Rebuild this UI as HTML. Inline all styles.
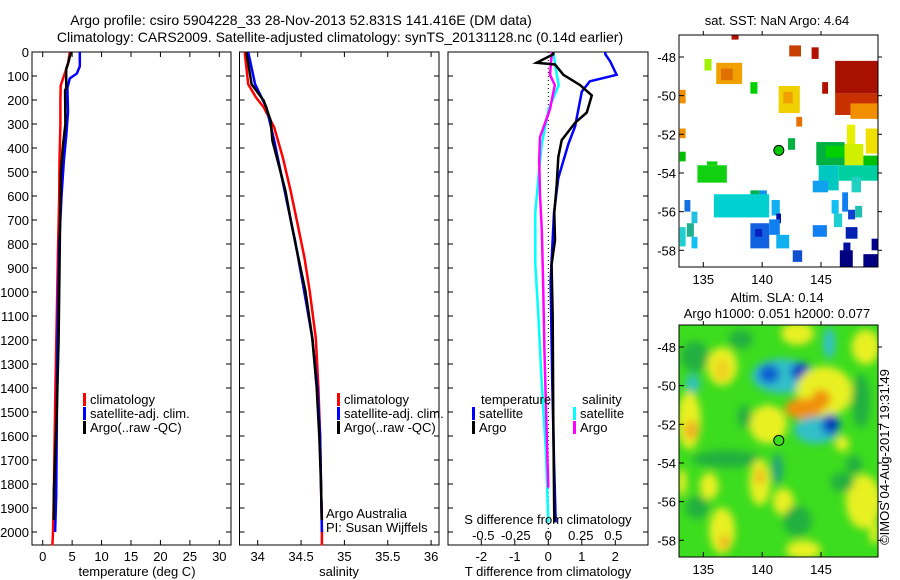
<!DOCTYPE html>
<html><head><meta charset="utf-8"><style>
html,body{margin:0;padding:0;background:#fff;}
svg{display:block;font-family:"Liberation Sans",sans-serif;font-size:13px;}
</style></head><body>
<svg id="root" width="900" height="580" viewBox="0 0 900 580">
<text x="301" y="25" text-anchor="middle" font-size="14">Argo profile: csiro 5904228_33 28-Nov-2013 52.831S 141.416E (DM data)</text>
<text x="340" y="42" text-anchor="middle" font-size="14">Climatology: CARS2009. Satellite-adjusted climatology: synTS_20131128.nc (0.14d earlier)</text>
<text x="777" y="25" text-anchor="middle">sat. SST: NaN Argo: 4.64</text>
<text x="777" y="302" text-anchor="middle">Altim. SLA: 0.14</text>
<text x="777" y="318" text-anchor="middle">Argo h1000: 0.051 h2000: 0.077</text>
<text transform="translate(889,457) rotate(-90)" text-anchor="middle">©IMOS 04-Aug-2017 19:31:49</text>
</svg>
<script>
// ---- data ----
const depthTicks=[0,100,200,300,400,500,600,700,800,900,1000,1100,1200,1300,1400,1500,1600,1700,1800,1900,2000];
const tempTicks=[0,5,10,15,20,25,30];
const salTicks=[34,34.5,35,35.5,36];
const tdiffTicks=[-2,-1,0,1,2];
const sdiffTicks=[-0.5,-0.25,0,0.25,0.5];
const lonTicks=[135,140,145];
const latTicks=[-48,-50,-52,-54,-56,-58];

const tClimDepth=[0,50,100,140,200,300,450,600,830,1100,1400,1650,1830,2000,2056];
const tClimVal=[4.6,4.3,3.6,3.05,3.0,3.0,2.85,2.8,2.6,2.4,2.15,2.0,1.9,1.75,1.65];
const tSatDepth=[0,60,90,110,150,250,350,450,600,800,1000,1300,1550,1850,2000];
const tSatVal=[6.3,6.3,5.8,4.6,4.2,4.3,4.0,3.6,3.2,2.8,2.65,2.45,2.4,2.3,2.1];
const tArgoDepth=[0,40,70,150,160,300,400,500,700,900,1200,1500,1830,1950];
const tArgoVal=[4.8,4.4,4.0,4.0,3.8,3.85,3.4,3.1,2.95,2.85,2.7,2.4,1.9,1.9];

const sClimDepth=[0,134,189,231,314,439,578,717,858,996,1192,1400,1600,1800,2000,2056];
const sClimVal=[33.85,33.89,33.98,34.07,34.19,34.29,34.38,34.46,34.54,34.60,34.67,34.70,34.72,34.73,34.74,34.74];
const sSatDepth=[0,134,231,369,508,646,785,925,1066,1192,1400,1600,1800,2000];
const sSatVal=[33.89,33.97,34.1,34.19,34.27,34.35,34.43,34.5,34.57,34.63,34.69,34.72,34.73,34.74];
const sArgoDepth=[0,134,203,286,369,439,578,717,858,996,1192,1400,1600,1800,1950];
const sArgoVal=[33.87,33.93,34.07,34.15,34.17,34.22,34.32,34.39,34.47,34.55,34.63,34.68,34.71,34.73,34.74];

const dtSatDepth=[0,9,40,95,122,165,310,383,525,670,955,1385,1700,1960];
const dtSatVal=[1.7,1.7,1.85,2.04,1.24,1.0,0.8,0.6,0.3,0.17,0.07,0.12,0.17,0.22];
const dtArgoDepth=[0,9,45,52,95,138,181,252,295,367,438,553,670,785,885,1100,1530,1960];
const dtArgoVal=[0.15,0.15,-0.35,0.2,0.45,0.95,1.3,1.15,0.8,0.4,0.3,0.25,0.18,0.2,0.1,0.13,0.15,0.18];
const dsSatDepth=[0,9,95,138,238,383,525,670,885,1100,1385,1670,1960];
const dsSatVal=[0.03,0.04,0.065,0.08,0.003,-0.05,-0.076,-0.1,-0.1,-0.076,-0.05,-0.018,0.0];
const dsArgoDepth=[0,9,95,138,238,355,453,597,740,955,1240,1530,1815];
const dsArgoVal=[0.03,0.026,0.013,0.05,0.013,-0.064,-0.07,-0.064,-0.05,-0.04,-0.03,-0.015,0.0];

// SST patches: [lon0, lat0(north), lon1, lat1(south), colour]
const sstPatches=[
[137.4,-46.85,138.0,-47.1,'#b01000'],[142.3,-47.4,143.3,-47.97,'#c84000'],[144.2,-47.5,144.8,-48.1,'#b01000'],
[135.1,-48.1,135.7,-48.7,'#a0f000'],[136.1,-48.3,138.3,-49.4,'#f0a000'],[136.5,-48.6,137.5,-49.2,'#e07000'],
[139.0,-49.3,139.6,-49.9,'#00d000'],[133.0,-49.7,133.5,-50.4,'#f09000'],[141.4,-49.5,143.2,-50.9,'#f0d000'],
[141.8,-49.8,142.6,-50.4,'#f0a000'],[142.9,-51.1,143.4,-51.6,'#e87000'],[145.1,-49.3,145.6,-49.9,'#b01000'],
[146.2,-48.2,149.8,-49.9,'#a81000'],[146.2,-49.9,149.8,-51.0,'#c83000'],[147.5,-50.4,149.8,-51.2,'#f09000'],
[133.0,-51.7,133.5,-52.2,'#f09000'],[133.0,-52.9,133.5,-53.4,'#00c000'],[142.2,-52.2,142.8,-52.8,'#00b040'],
[147.2,-51.5,147.9,-52.8,'#e8f000'],[148.8,-51.7,149.8,-53.0,'#f0e000'],[144.6,-52.4,147.0,-53.6,'#00b040'],
[145.4,-52.6,147.0,-53.2,'#00d000'],[147.0,-52.5,148.6,-53.6,'#d0f000'],[148.6,-53.1,149.8,-54.0,'#00c000'],
[134.5,-53.6,137.0,-54.5,'#10d010'],[135.3,-53.4,136.2,-53.6,'#10d010'],
[144.8,-53.6,146.5,-54.9,'#00c8c0'],[146.5,-53.6,149.8,-54.4,'#00d0a0'],[147.6,-54.2,148.4,-55.0,'#20d0c0'],
[144.3,-54.4,145.6,-55.0,'#10a0f0'],[139.0,-54.9,139.8,-55.4,'#00b050'],[139.8,-54.9,140.4,-55.4,'#1090f0'],
[135.9,-55.1,140.6,-56.3,'#00d0d0'],[133.4,-55.4,133.9,-56.0,'#1070e0'],[140.8,-55.4,141.5,-56.2,'#10b0f0'],
[141.2,-56.1,141.6,-56.6,'#0010a0'],[134.0,-56.0,134.5,-56.6,'#20c0e0'],[133.6,-56.6,134.2,-57.3,'#20b090'],
[133.0,-56.8,133.5,-57.8,'#20d0d0'],[134.0,-57.3,134.5,-57.9,'#10c0f0'],[139.0,-56.6,140.6,-57.9,'#1060e0'],
[139.4,-56.9,140.0,-57.3,'#0020c0'],[140.6,-56.4,141.5,-57.2,'#1080f0'],[141.2,-57.2,142.3,-57.9,'#10b0f0'],
[142.6,-58.0,143.4,-58.6,'#1050d0'],[144.3,-56.7,145.5,-57.3,'#1080f0'],[145.9,-55.4,146.5,-56.1,'#10c0f0'],
[146.1,-56.1,146.8,-56.8,'#20d0d0'],[146.8,-55.0,147.3,-56.0,'#1080f0'],[147.3,-55.9,147.9,-56.4,'#1040d0'],
[147.9,-55.7,148.5,-56.3,'#20c0b0'],[147.1,-56.8,148.1,-57.4,'#0020b0'],[146.9,-57.6,147.5,-58.1,'#0010a0'],
[146.6,-58.0,147.7,-58.86,'#000080'],[148.6,-58.2,149.84,-58.86,'#000080'],[149.3,-57.4,149.84,-58.0,'#000090']
];
// SLA blobs: [lon, lat, rxDeg, ryDeg, colour]
const slaBlobs=[
[134.3,-48.5,1.2,0.8,'#20b040'],[143.0,-47.3,1.4,0.6,'#e8f020'],[145.7,-47.8,0.5,0.8,'#30c0d0'],
[136.6,-49.0,1.3,1.0,'#e8f020'],[136.6,-49.2,0.6,0.6,'#f0d020'],[148.8,-48.0,1.2,0.9,'#e8f020'],
[141.7,-49.5,2.6,0.9,'#30c0c8'],[140.6,-49.4,0.9,0.5,'#1060d0'],[143.3,-49.3,0.9,0.5,'#1050d0'],[143.3,-49.3,0.35,0.3,'#1030b0'],
[134.1,-49.9,0.6,0.5,'#30c0c0'],[145.3,-50.3,2.4,1.3,'#e8f020'],[143.5,-51.2,1.6,0.55,'#f09010'],[145.0,-50.7,0.8,0.5,'#f09010'],
[133.8,-51.8,1.0,1.5,'#e8f020'],[134.0,-52.3,0.6,0.5,'#f0b020'],[140.5,-52.0,1.6,1.0,'#e8f020'],[138.5,-51.6,0.6,0.6,'#20b040'],
[144.6,-52.3,1.9,0.7,'#30c0c8'],[145.8,-52.0,0.8,0.55,'#1060d0'],[145.9,-52.0,0.35,0.3,'#0020a0'],
[148.4,-50.8,0.8,1.4,'#20b040'],[146.8,-53.0,0.6,0.4,'#e8f020'],[137.0,-53.8,3.0,0.45,'#20b040'],
[141.3,-54.3,0.45,0.8,'#20a080'],[139.8,-55.0,0.9,1.2,'#e8f020'],[139.8,-54.7,0.4,0.4,'#f0b020'],
[135.5,-55.2,0.8,0.7,'#e8f020'],[133.2,-55.0,0.4,0.7,'#e8f020'],[141.8,-56.0,0.9,0.7,'#e8f020'],
[147.8,-54.1,0.7,0.5,'#20b040'],[148.6,-56.0,1.5,1.4,'#e8f020'],[136.6,-57.5,1.1,1.2,'#e8f020'],
[136.8,-58.1,0.4,0.4,'#f0b020'],[134.5,-56.3,1.0,0.6,'#20b040'],[143.0,-57.0,1.2,0.8,'#20b040'],
[143.5,-58.5,1.5,0.5,'#e8f020'],[149.5,-57.6,0.4,0.6,'#e8f020'],[138.2,-47.6,1.0,0.5,'#20b040'],[146.8,-55.0,1.0,0.5,'#20b040']
];
const argoLon=141.416, argoLat=-52.831;

// ---- scales ----
const NS='http://www.w3.org/2000/svg';
const root=document.getElementById('root');
const yTop=52, yBot=545;
const yD=d=>yTop+d*0.24;
const xT=t=>42.7+t*(219.3-42.7)/30;
const xS=s=>257.7+(s-34)*86.7;
const xDT=v=>548.3+v*33.5;
const xDS=v=>548.3+v*130;
const mLon=l=>703.3+(l-135)*11.77;
const mLat1=la=>57+(-48-la)*19.33;
const mLat2=la=>347+(-48-la)*19.33;

function mk(tag,attrs,parent){const e=document.createElementNS(NS,tag);for(const k in attrs)e.setAttribute(k,attrs[k]);(parent||root).appendChild(e);return e;}

function frame(x0,x1,y0,y1,name){
  const r=mk('rect',{x:x0,y:y0,width:x1-x0,height:y1-y0,fill:'none',stroke:'#000','stroke-width':1});
  
  
}
function depthTicksFor(x0,x1,labels){
  depthTicks.forEach(d=>{
    const y=yD(d);
    const t1=mk('line',{x1:x0,x2:x0+5,y1:y,y2:y,stroke:'#000'});
    
    
    const t2=mk('line',{x1:x1-5,x2:x1,y1:y,y2:y,stroke:'#000'});
    
    
    if(labels){const tx=mk('text',{x:x0-3,y:y+5,'text-anchor':'end'});tx.textContent=d;
      
      }
  });
}
function xTicksFor(vals,fx,labelY,name,top){
  vals.forEach(v=>{
    const x=fx(v);
    const a=mk('line',{x1:x,x2:x,y1:yBot-5,y2:yBot,stroke:'#000'});
    
    
    if(top){const b=mk('line',{x1:x,x2:x,y1:yTop,y2:yTop+5,stroke:'#000'});
      
      }
    const t=mk('text',{x:x,y:labelY,'text-anchor':'middle'});t.textContent=v;
    
    
  });
}
function line(ds,vs,fx,color,name,w){
  const pts=ds.map((d,i)=>fx(vs[i]).toFixed(1)+','+yD(d).toFixed(1)).join(' ');
  const p=mk('polyline',{points:pts,fill:'none',stroke:color,'stroke-width':w||2.5,'stroke-linejoin':'miter'});
  
  
}
function legend(x,y,color,label,name){
  const b=mk('rect',{x:x,y:y-11,width:3,height:13,fill:color});
  
  
  const t=mk('text',{x:x+7,y:y});t.textContent=label;
  
  
}
function txt(x,y,s,name,anchor){const t=mk('text',{x:x,y:y,'text-anchor':anchor||'start'});t.textContent=s;
  
  }

// ---- panel 1: temperature ----
frame(32,231,yTop,yBot,'temperature-panel-frame');
depthTicksFor(32,231,true);
xTicksFor(tempTicks,xT,561,'temperature-axis',true);
txt(137,576,'temperature (deg C)','temperature-axis-title','middle');
line(tClimDepth,tClimVal,xT,'#f00','temperature-climatology-line');
line(tSatDepth,tSatVal,xT,'#00f','temperature-satellite-line');
line(tArgoDepth,tArgoVal,xT,'#000','temperature-argo-line');
legend(83,404,'#f00','climatology','temp-legend-climatology');
legend(83,418,'#00f','satellite-adj. clim.','temp-legend-satellite');
legend(83,432,'#000','Argo(..raw -QC)','temp-legend-argo');

// ---- panel 2: salinity ----
frame(239.5,439,yTop,yBot,'salinity-panel-frame');
depthTicksFor(239.5,439,false);
xTicksFor(salTicks,xS,561,'salinity-axis',true);
txt(339,576,'salinity','salinity-axis-title','middle');
line(sClimDepth,sClimVal,xS,'#f00','salinity-climatology-line');
line(sSatDepth,sSatVal,xS,'#00f','salinity-satellite-line');
line(sArgoDepth,sArgoVal,xS,'#000','salinity-argo-line');
legend(337,404,'#f00','climatology','sal-legend-climatology');
legend(337,418,'#00f','satellite-adj. clim.','sal-legend-satellite');
legend(337,432,'#000','Argo(..raw -QC)','sal-legend-argo');
txt(326,518,'Argo Australia','argo-australia-note');
txt(326,532,'PI: Susan Wijffels','pi-note');

// ---- panel 3: differences ----
frame(448,648,yTop,yBot,'difference-panel-frame');
depthTicksFor(448,648,false);
xTicksFor(tdiffTicks,xDT,561,'tdiff-axis',false);
txt(548,576,'T difference from climatology','tdiff-axis-title','middle');
const zl=mk('line',{x1:xDT(0),x2:xDT(0),y1:yTop,y2:yBot,stroke:'#000','stroke-dasharray':'1,3'});


line(dsSatDepth,dsSatVal,xDS,'#0ff','sdiff-satellite-line');
line(dsArgoDepth,dsArgoVal,xDS,'#f0f','sdiff-argo-line');
line(dtSatDepth,dtSatVal,xDT,'#00f','tdiff-satellite-line');
line(dtArgoDepth,dtArgoVal,xDT,'#000','tdiff-argo-line');
txt(481,404,'temperature','diff-legend-temperature-heading');
txt(582,404,'salinity','diff-legend-salinity-heading');
legend(472,418,'#00f','satellite','diff-legend-t-satellite');
legend(472,432,'#000','Argo','diff-legend-t-argo');
legend(573,418,'#0ff','satellite','diff-legend-s-satellite');
legend(573,432,'#f0f','Argo','diff-legend-s-argo');
txt(548,524,'S difference from climatology','sdiff-axis-title','middle');
sdiffTicks.forEach(v=>{txt(xDS(v),540,String(v),'sdiff-tick-label','middle');});

// ---- maps ----
function mapAxes(yTopM,fLat,name){
  frame(679,878,yTopM,yTopM+232,name+'-frame');
  lonTicks.forEach(l=>{const x=mLon(l);
    const a=mk('line',{x1:x,x2:x,y1:yTopM+232,y2:yTopM+232-5,stroke:'#000'});
    
    
    const b=mk('line',{x1:x,x2:x,y1:yTopM,y2:yTopM-4,stroke:'#000'});
    
    
    txt(x,yTopM+249,String(l),name+'-lon-label','middle');});
  latTicks.forEach(la=>{const y=fLat(la);
    const a=mk('line',{x1:878,x2:882,y1:y,y2:y,stroke:'#000'});
    
    
    const b=mk('line',{x1:679,x2:684,y1:y,y2:y,stroke:'#000'});
    
    
    txt(676,y+5,String(la),name+'-lat-label','end');});
}
const defs=mk('defs',{});
const cp1=mk('clipPath',{id:'m1'},defs);mk('rect',{x:679,y:35,width:199,height:232},cp1);
const cp2=mk('clipPath',{id:'m2'},defs);mk('rect',{x:679,y:325,width:199,height:232},cp2);
const flt=mk('filter',{id:'blur',x:'-50%',y:'-50%',width:'200%',height:'200%'},defs);mk('feGaussianBlur',{stdDeviation:4},flt);

const g1=mk('g',{'clip-path':'url(#m1)'});


sstPatches.forEach(p=>{
  const r=mk('rect',{x:mLon(p[0]),y:mLat1(p[1]),width:mLon(p[2])-mLon(p[0]),height:mLat1(p[3])-mLat1(p[1]),fill:p[4]},g1);
  
  
});
const dot1=mk('circle',{cx:mLon(argoLon),cy:mLat1(argoLat),r:5,fill:'#00c800',stroke:'#000','stroke-width':1},g1);


mapAxes(35,mLat1,'sst-map');

const g2=mk('g',{'clip-path':'url(#m2)'});


const bg=mk('rect',{x:679,y:325,width:199,height:232,fill:'#3cdc1e'},g2);


const gb=mk('g',{filter:'url(#blur)'},g2);
slaBlobs.forEach(b=>{
  const e=mk('ellipse',{cx:mLon(b[0]),cy:mLat2(b[1]),rx:b[2]*11.77,ry:b[3]*19.33,fill:b[4]},gb);
  
  
});
const dot2=mk('circle',{cx:mLon(argoLon),cy:mLat2(argoLat),r:5,fill:'#3cdc1e',stroke:'#000','stroke-width':1},g2);


mapAxes(325,mLat2,'sla-map');
</script>
</body></html>
